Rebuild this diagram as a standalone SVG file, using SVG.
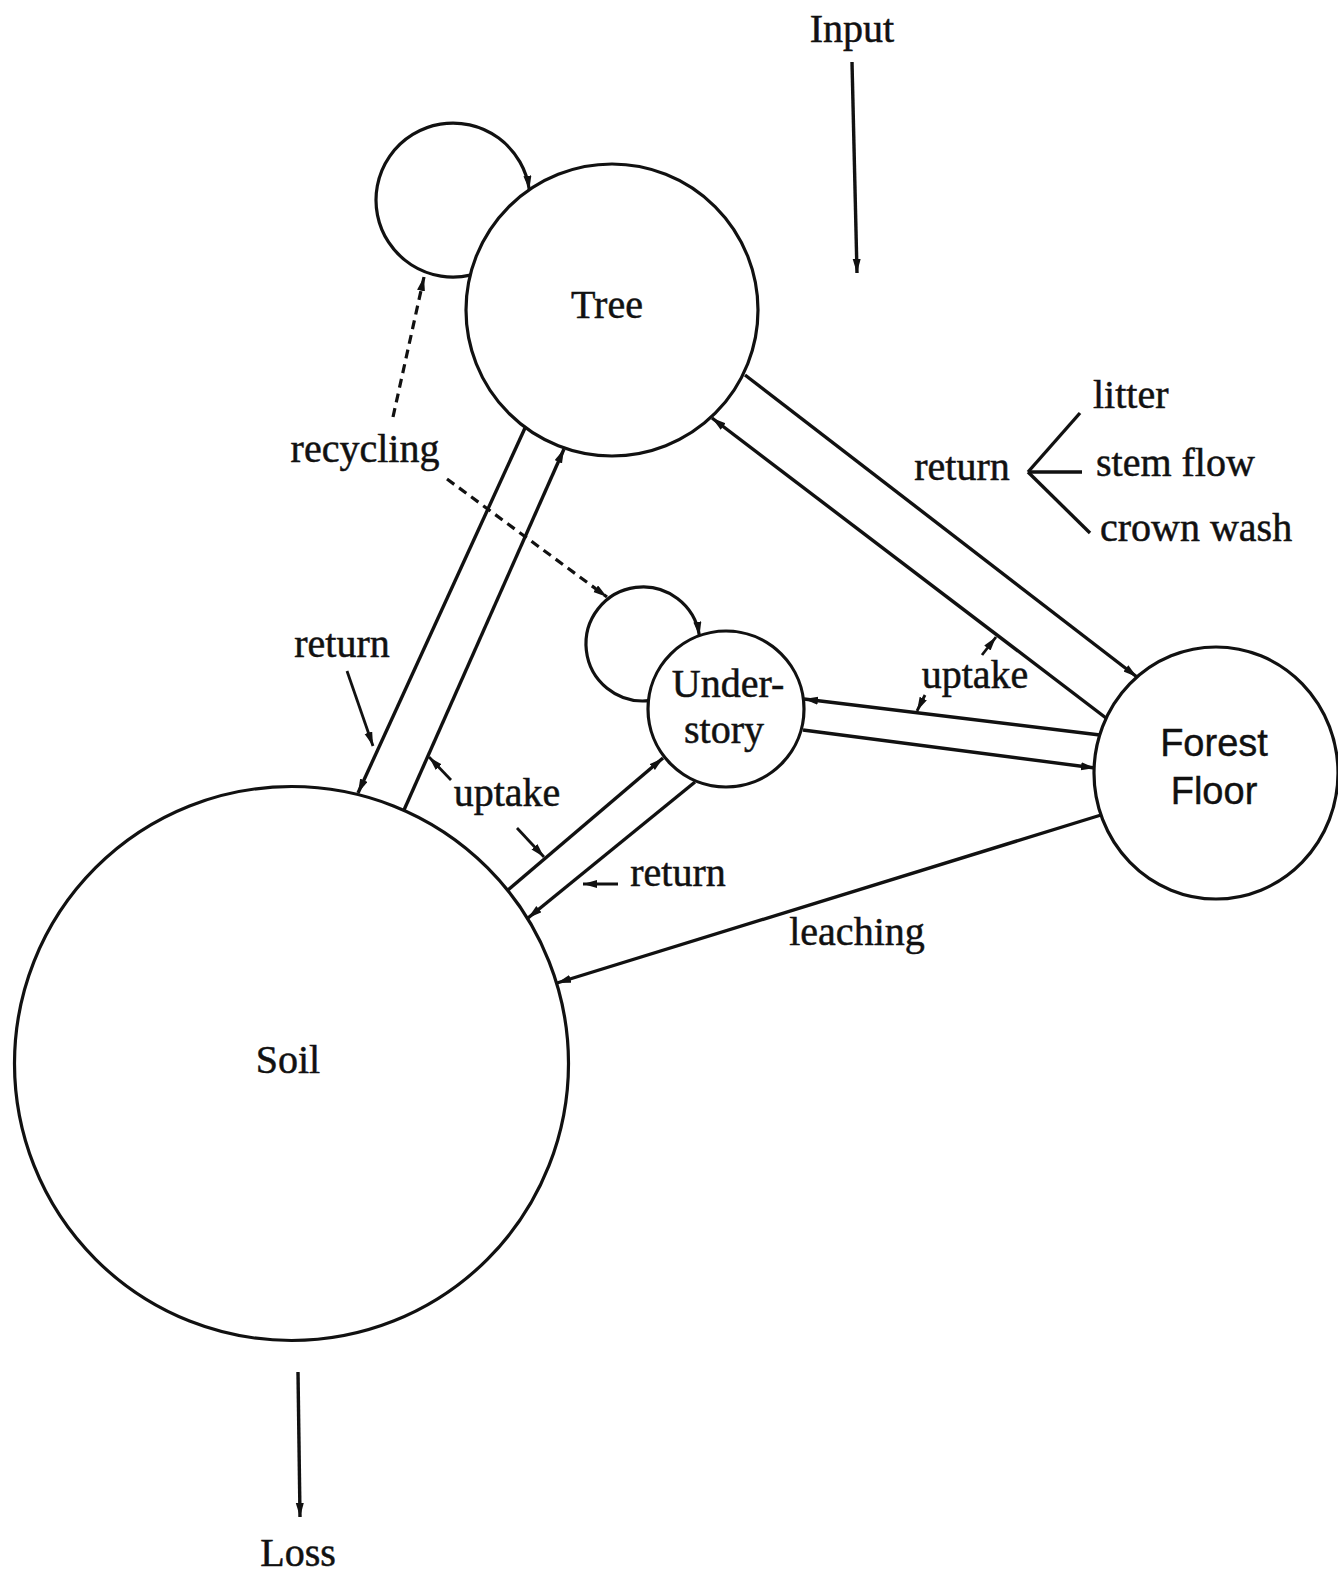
<svg xmlns="http://www.w3.org/2000/svg" width="1338" height="1575" viewBox="0 0 1338 1575">
<style>
.node{fill:none;stroke:#111;stroke-width:3.2}
.loop{fill:none;stroke:#111;stroke-width:3.2}
.edge{fill:none;stroke:#111;stroke-width:3.4}
.dash{fill:none;stroke:#111;stroke-width:3.2;stroke-dasharray:9 6}
.lead{fill:none;stroke:#111;stroke-width:2.8}
.t{font-family:"Liberation Serif",serif;font-size:40px;fill:#111;stroke:#111;stroke-width:0.5}
.s{font-family:"Liberation Sans",sans-serif;font-size:38px;fill:#111;stroke:#111;stroke-width:0.4}
</style>
<defs>
<marker id="ah" markerUnits="userSpaceOnUse" markerWidth="16" markerHeight="10" refX="14" refY="4" orient="auto">
<path d="M0,0 L14,4 L0,8 z" fill="#111"/>
</marker>
</defs>
<rect width="1338" height="1575" fill="#fff"/>

<g id="connectors">
<!-- input / loss -->
<line class="edge" x1="852" y1="62" x2="857" y2="273" marker-end="url(#ah)"/>
<line class="edge" x1="298" y1="1372" x2="300" y2="1517" marker-end="url(#ah)"/>
<!-- self loops -->
<path class="loop" d="M470.3,275.1 A77,77 0 1 1 529.3,189.7" marker-end="url(#ah)"/>
<path class="loop" d="M648.4,700.7 A57,57 0 1 1 699.4,635.7" marker-end="url(#ah)"/>
<!-- tree - soil -->
<line class="edge" x1="525" y1="428" x2="358" y2="793" marker-end="url(#ah)"/>
<line class="edge" x1="404" y1="810" x2="564" y2="449" marker-end="url(#ah)"/>
<!-- understory - soil -->
<line class="edge" x1="508" y1="890" x2="663" y2="758" marker-end="url(#ah)"/>
<line class="edge" x1="695" y1="782" x2="528" y2="918" marker-end="url(#ah)"/>
<!-- forest floor - soil -->
<line class="edge" x1="1101" y1="815" x2="557" y2="983" marker-end="url(#ah)"/>
<!-- forest floor - understory -->
<line class="edge" x1="1100" y1="735" x2="804" y2="699" marker-end="url(#ah)"/>
<line class="edge" x1="803" y1="730" x2="1095" y2="768" marker-end="url(#ah)"/>
<!-- tree - forest floor -->
<line class="edge" x1="1106" y1="718" x2="712" y2="418" marker-end="url(#ah)"/>
<line class="edge" x1="745" y1="375" x2="1137" y2="677" marker-end="url(#ah)"/>
<!-- recycling dashed -->
<line class="dash" x1="393" y1="417" x2="424" y2="277" marker-end="url(#ah)"/>
<line class="dash" x1="447" y1="479" x2="607" y2="597" marker-end="url(#ah)"/>
<!-- label leaders -->
<line class="lead" x1="347" y1="671" x2="373" y2="746" marker-end="url(#ah)"/>
<line class="lead" x1="451" y1="780" x2="429" y2="757" marker-end="url(#ah)"/>
<line class="lead" x1="517" y1="828" x2="544" y2="857" marker-end="url(#ah)"/>
<line class="lead" x1="618" y1="884" x2="583" y2="884" marker-end="url(#ah)"/>
<line class="lead" x1="925" y1="695" x2="917" y2="711" marker-end="url(#ah)"/>
<line class="lead" x1="982" y1="655" x2="996" y2="637" marker-end="url(#ah)"/>
<!-- return branches -->
<line class="edge" x1="1028" y1="472" x2="1080" y2="413"/>
<line class="edge" x1="1028" y1="472" x2="1082" y2="472"/>
<line class="edge" x1="1028" y1="472" x2="1090" y2="533"/>
</g>

<g id="tree">
<circle class="node" cx="612" cy="310" r="146"/>
<text class="t" x="607" y="318" text-anchor="middle">Tree</text>
</g>
<g id="understory">
<circle class="node" cx="726" cy="709" r="78"/>
<text class="t" x="728" y="697" text-anchor="middle">Under-</text>
<text class="t" x="724" y="743" text-anchor="middle">story</text>
</g>
<g id="forest-floor">
<ellipse class="node" cx="1216" cy="773" rx="122" ry="126"/>
<text class="s" x="1214" y="756" text-anchor="middle">Forest</text>
<text class="s" x="1214" y="804" text-anchor="middle">Floor</text>
</g>
<g id="soil">
<circle class="node" cx="291.5" cy="1063.5" r="277"/>
<text class="t" x="288" y="1073" text-anchor="middle">Soil</text>
</g>

<g id="labels">
<text class="t" x="852" y="42" text-anchor="middle">Input</text>
<text class="t" x="298" y="1566" text-anchor="middle">Loss</text>
<text class="t" x="365" y="462" text-anchor="middle">recycling</text>
<text class="t" x="342" y="657" text-anchor="middle">return</text>
<text class="t" x="507" y="806" text-anchor="middle">uptake</text>
<text class="t" x="678" y="886" text-anchor="middle">return</text>
<text class="t" x="857" y="945" text-anchor="middle">leaching</text>
<text class="t" x="975" y="688" text-anchor="middle">uptake</text>
<text class="t" x="962" y="480" text-anchor="middle">return</text>
<text class="t" x="1093" y="408">litter</text>
<text class="t" x="1096" y="476">stem flow</text>
<text class="t" x="1100" y="541">crown wash</text>
</g>
</svg>
